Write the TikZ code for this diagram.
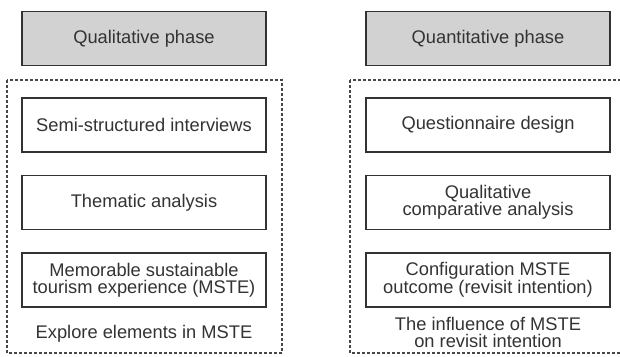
\documentclass[tikz,border=0pt]{standalone}
\usepackage{fontspec}
\setmainfont{Liberation Sans}
\usetikzlibrary{positioning}
\definecolor{inkgray}{HTML}{333333}
\definecolor{headfill}{HTML}{D2D2D2}

\begin{document}
\begin{tikzpicture}[
    x=1pt, y=-1pt,
    node distance=22pt,
    phase/.style={draw=inkgray, line width=1.5pt, fill=headfill, minimum width=244pt, minimum height=54pt, inner sep=2pt, font=\fontsize{18.3}{16.8}\selectfont, text=inkgray},
    stage/.style={phase, fill=white, align=center},
    note/.style={font=\fontsize{18.3}{16.8}\selectfont, text=inkgray, align=center},
    group/.style={draw=inkgray!90, line width=1.3pt, dash pattern=on 3pt off 2pt}
]
    \useasboundingbox (0,0) rectangle (620,356);

    % Qualitative side
    \node[phase] (qual) at (144,38.5) {Qualitative phase};
    \node[stage, below=31pt of qual] (interv) {Semi-structured interviews};
    \node[stage, below=of interv] (thema) {Thematic analysis};
    \node[stage, below=of thema] (mste) {Memorable sustainable\\tourism experience (MSTE)};
    \node[note, below=26pt of mste, anchor=center] (explore) {Explore elements in MSTE};

    % Quantitative side
    \node[phase] (quant) at (488,38.5) {Quantitative phase};
    \node[stage, below=31pt of quant] (quest) {Questionnaire design};
    \node[stage, below=of quest] (qca) {Qualitative\\comparative analysis};
    \node[stage, below=of qca] (config) {Configuration MSTE\\outcome (revisit intention)};
    \node[note, below=25pt of config, anchor=center] (revisit) {The influence of MSTE\\on revisit intention};

    % Dashed frames round each phase
    \draw[group] (7,80) rectangle (282,353);
    \draw[group] (350,80) rectangle (630,353);
\end{tikzpicture}
\end{document}
